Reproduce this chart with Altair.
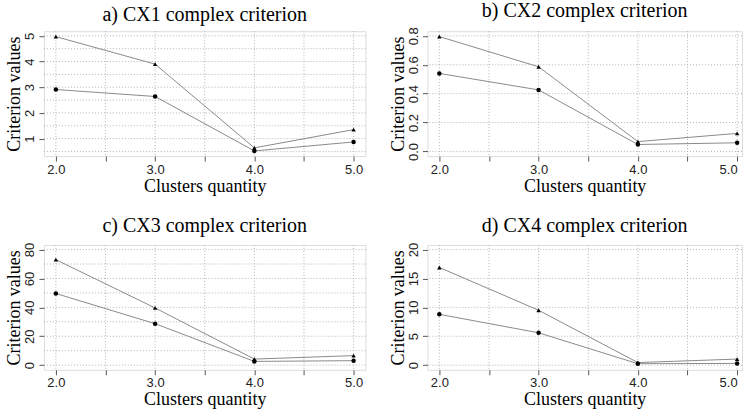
import altair as alt
import pandas as pd

clusters = [2, 3, 4, 5]

titles = ["a) CX1 complex criterion", "b) CX2 complex criterion",
          "c) CX3 complex criterion", "d) CX4 complex criterion"]

cx1_tri = [4.97, 3.90, 0.64, 1.35]
cx1_dot = [2.91, 2.64, 0.52, 0.87]
cx2_tri = [0.795, 0.586, 0.068, 0.125]
cx2_dot = [0.540, 0.426, 0.048, 0.060]
cx3_tri = [73.0, 39.6, 4.2, 6.6]
cx3_dot = [49.6, 28.7, 2.6, 3.1]
cx4_tri = [16.9, 9.5, 0.45, 1.05]
cx4_dot = [8.8, 5.6, 0.25, 0.30]

y_domains = [[0.32, 5.18], [-0.032, 0.832], [-3.2, 83.2], [-0.8, 20.8]]
y_ticks = [[1, 2, 3, 4, 5], [0.0, 0.2, 0.4, 0.6, 0.8], [0, 20, 40, 60, 80], [0, 5, 10, 15, 20]]
y_grids = [[0.5, 1, 1.5, 2, 2.5, 3, 3.5, 4, 4.5, 5],
           [0.0, 0.2, 0.4, 0.6, 0.8],
           [0, 10, 20, 30, 40, 50, 60, 70, 80],
           [0, 5, 10, 15, 20]]
y_formats = ["d", ".1f", "d", "d"]
x_ticks = [2, 2.5, 3, 3.5, 4, 4.5, 5]

GRID = "#b4b4b4"
SERIF = "Liberation Serif"
SANS = "Liberation Sans"


def panel(title, tri, dot, ydom, yt, yg, yfmt, xmax, width, flush):
    df = pd.DataFrame({"x": clusters * 2, "y": tri + dot,
                       "s": ["tri"] * 4 + ["dot"] * 4})
    xs = alt.Scale(domain=[1.88, xmax], nice=False, zero=False)
    ys = alt.Scale(domain=ydom, nice=False, zero=False)
    xaxis = alt.Axis(values=x_ticks, grid=False, domain=False,
                     labelExpr="datum.value % 1 == 0 ? format(datum.value, '.1f') : ''",
                     labelOverlap=False, labelFlush=flush,
                     tickSize=5, tickColor="#555555", labelPadding=2,
                     labelFont=SANS, labelFontSize=13, labelColor="#222222",
                     title="Clusters quantity", titleFont=SERIF, titleFontSize=18,
                     titleFontWeight="normal", titleColor="black", titlePadding=1)
    yaxis = alt.Axis(values=yt, grid=False, domain=False, format=yfmt,
                     labelAngle=270, labelAlign="center", labelBaseline="bottom",
                     labelOverlap=False, tickSize=5, tickColor="#555555", labelPadding=2,
                     labelFont=SANS, labelFontSize=13, labelColor="#222222",
                     title="Criterion values", titleFont=SERIF, titleFontSize=18,
                     titleFontWeight="normal", titleColor="black", titlePadding=0)
    xg = alt.Chart(pd.DataFrame({"g": x_ticks})).mark_rule(
        color=GRID, strokeDash=[1, 2], strokeWidth=1).encode(
        x=alt.X("g:Q", scale=xs, axis=xaxis))
    ygr = alt.Chart(pd.DataFrame({"g": yg})).mark_rule(
        color=GRID, strokeDash=[1, 2], strokeWidth=1).encode(
        y=alt.Y("g:Q", scale=ys, axis=yaxis))
    lines = alt.Chart(df).mark_line(color="#8a8a8a", strokeWidth=1).encode(
        x=alt.X("x:Q", scale=xs, axis=xaxis),
        y=alt.Y("y:Q", scale=ys, axis=yaxis),
        detail="s:N")
    pts = alt.Chart(df).mark_point(filled=True, color="black", opacity=1, size=20).encode(
        x=alt.X("x:Q", scale=xs, axis=xaxis),
        y=alt.Y("y:Q", scale=ys, axis=yaxis),
        shape=alt.Shape("s:N", scale=alt.Scale(domain=["tri", "dot"],
                                                range=["triangle-up", "circle"]),
                        legend=None))
    return alt.layer(xg, ygr, lines, pts).properties(
        width=width, height=125,
        title=alt.TitleParams(title, font=SERIF, fontSize=20, fontWeight="normal",
                              color="black", anchor="middle", frame="group",
                              baseline="alphabetic", offset=-10))


series = [(cx1_tri, cx1_dot), (cx2_tri, cx2_dot), (cx3_tri, cx3_dot), (cx4_tri, cx4_dot)]
panels = []
for i in range(4):
    right = i % 2 == 1
    panels.append(panel(titles[i], series[i][0], series[i][1], y_domains[i],
                        y_ticks[i], y_grids[i], y_formats[i],
                        5.049 if right else 5.12, 315 if right else 322,
                        10 if right else False))

chart = alt.concat(*panels, columns=2, spacing={"row": 89, "column": 62},
                   bounds="flush").properties(
    padding={"left": 5, "top": 0, "right": 0, "bottom": 0}
).configure_view(stroke="#8c8c8c", strokeWidth=1).configure(background="white")

chart.save("out.html", embed_options={"renderer": "svg", "actions": False})
